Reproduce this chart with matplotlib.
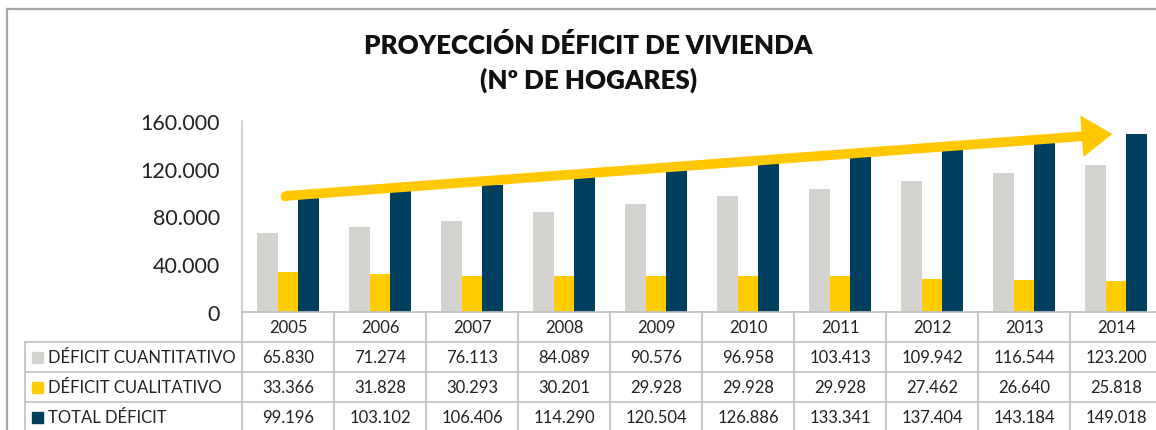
import matplotlib
matplotlib.use("Agg")
import matplotlib.pyplot as plt
import matplotlib.transforms as mtransforms
from matplotlib.lines import Line2D
from matplotlib.patches import FancyArrowPatch, Rectangle
import numpy as np

years = ["2005", "2006", "2007", "2008", "2009", "2010", "2011", "2012", "2013", "2014"]
cuantitativo = [65830, 71274, 76113, 84089, 90576, 96958, 103413, 109942, 116544, 123200]
cualitativo = [33366, 31828, 30293, 30201, 29928, 29928, 29928, 27462, 26640, 25818]
total = [99196, 103102, 106406, 114290, 120504, 126886, 133341, 137404, 143184, 149018]
series_names = ["DÉFICIT CUANTITATIVO", "DÉFICIT CUALITATIVO", "TOTAL DÉFICIT"]
colors = ["#D4D3CF", "#FFCC00", "#00405E"]

plt.rcParams["font.family"] = ["Lato", "DejaVu Sans"]

W, H = 1156, 431
fig = plt.figure(figsize=(W / 100, H / 100), dpi=100)


def fx(px):
    return px / W


def fy(py):
    return 1 - py / H


# plot area in pixel terms of the reference
ax = fig.add_axes([fx(242), fy(313), fx(920), 191 / H])
x = np.arange(len(years))
bw = 0.222
for i, vals in enumerate([cuantitativo, cualitativo, total]):
    ax.bar(x + (i - 1) * bw, vals, bw, color=colors[i], zorder=2)

ax.set_xlim(-0.5, len(years) - 0.5)
ax.set_ylim(0, 160000)
ax.set_yticks(range(0, 160001, 40000))
ax.set_yticklabels([f"{v:,}".replace(",", ".") for v in range(0, 160001, 40000)],
                   fontsize=15.5, color="#222222")
ax.tick_params(axis="y", length=0, pad=16)
ax.set_xticks([])
for s in ["top", "right", "bottom"]:
    ax.spines[s].set_visible(False)
ax.spines["left"].set_color("#C8C8C8")
ax.spines["left"].set_linewidth(1.2)

# trend arrow
arrow = FancyArrowPatch((-0.03, 97200), (8.96, 149100),
                        arrowstyle="simple,head_length=22,head_width=30,tail_width=7",
                        shrinkA=0, shrinkB=0,
                        color="#FFC800", lw=0, zorder=3, clip_on=False)
ax.add_patch(arrow)
ax.plot([-0.03], [97200], "o", ms=7, color="#FFC800", mec="none", zorder=3, clip_on=False)

# title
fig.text(0.509, fy(45), "PROYECCIÓN DÉFICIT DE VIVIENDA", ha="center", va="center",
         fontsize=18.7, fontweight="heavy", color="#111111")
fig.text(0.509, fy(80), "(Nº DE HOGARES)", ha="center", va="center",
         fontsize=18.7, fontweight="heavy", color="#111111")

# data table below the axis
line_c = "#BFBFBF"
bt = mtransforms.blended_transform_factory(ax.transData, fig.transFigure)
row_edges = [313, 343, 373, 403, 433]

fig.add_artist(Line2D([fx(242), 1], [fy(313)] * 2, color=line_c, lw=1.2))
for r in row_edges[1:4]:
    fig.add_artist(Line2D([fx(25), 1], [fy(r)] * 2, color=line_c, lw=1.2))
fig.add_artist(Line2D([fx(25)] * 2, [fy(343), 0], color=line_c, lw=1.2))
fig.add_artist(Line2D([fx(242)] * 2, [fy(313), 0], color=line_c, lw=1.2))
for b in np.arange(0.5, len(years) - 0.5):
    fig.add_artist(Line2D([b, b], [fy(313), 0], color=line_c, lw=1.2, transform=bt))

for j, yr in enumerate(years):
    fig.text(j, fy(328), yr, transform=bt, ha="center", va="center", fontsize=12, color="#222222")

for k, (name, vals) in enumerate(zip(series_names, [cuantitativo, cualitativo, total])):
    yc = (row_edges[k + 1] + row_edges[k + 2]) / 2
    fig.add_artist(Rectangle((fx(32), fy(yc + 6)), fx(11), 11 / H, color=colors[k],
                             transform=fig.transFigure))
    fig.text(fx(48), fy(yc), name, ha="left", va="center", fontsize=12, color="#222222")
    for j, v in enumerate(vals):
        fig.text(j, fy(yc), f"{v:,}".replace(",", "."), transform=bt,
                 ha="center", va="center", fontsize=12, color="#222222")

# outer chart frame
fig.add_artist(Line2D([fx(7), 1], [fy(10)] * 2, color="#A6A6A6", lw=1.6))
fig.add_artist(Line2D([fx(7)] * 2, [fy(10), 0], color="#A6A6A6", lw=1.6))

fig.savefig("out.png", dpi=100)
